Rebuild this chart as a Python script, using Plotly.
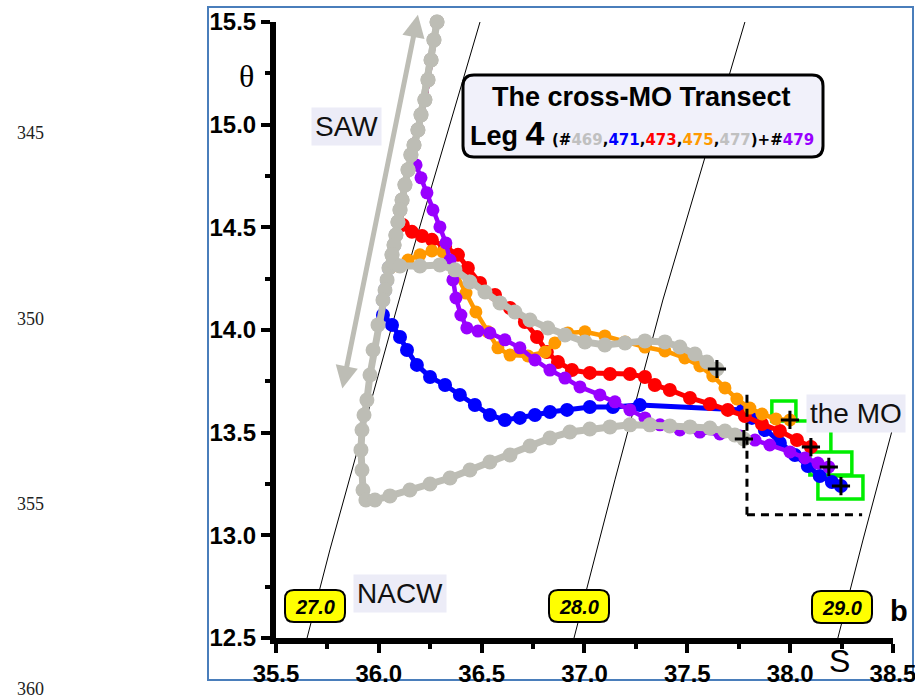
import plotly.graph_objects as go

# ---------------------------------------------------------------- figure geometry (pixels)
W, H = 915, 700
ML, MR, MT, MB = 276, 22, 22, 62
PW, PH = W - ML - MR, H - MT - MB


def px(x):
    """pixel column -> paper x"""
    return (x - ML) / PW


def py(y):
    """pixel row -> paper y"""
    return (H - MB - y) / PH


# ---------------------------------------------------------------- data (salinity S, potential temperature theta)
# shared near-surface column of all casts
SURF_S = [36.283, 36.268, 36.254, 36.239, 36.224, 36.205, 36.190, 36.171, 36.156, 36.142, 36.127,
          36.113, 36.103, 36.093, 36.083, 36.074, 36.064, 36.049, 36.040, 36.030, 36.020]
SURF_T = [15.500, 15.413, 15.315, 15.218, 15.121, 15.048, 14.974, 14.901, 14.853, 14.780, 14.707,
          14.633, 14.585, 14.526, 14.463, 14.414, 14.366, 14.302, 14.244, 14.195, 14.146]

# cast 471 (blue)
S_471 = SURF_S + [36.020, 36.064, 36.103, 36.137, 36.185, 36.249, 36.322, 36.394, 36.467, 36.540,
                  36.613, 36.686, 36.759, 36.832, 36.915, 37.026, 37.138, 37.269, 37.770, 37.814,
                  37.877, 37.950, 38.023, 38.086, 38.144, 38.203, 38.247]
T_471 = SURF_T + [14.073, 14.025, 13.966, 13.903, 13.830, 13.771, 13.732, 13.684, 13.635, 13.586,
                  13.562, 13.572, 13.586, 13.601, 13.611, 13.625, 13.625, 13.635, 13.611, 13.572,
                  13.513, 13.450, 13.391, 13.338, 13.289, 13.260, 13.240]

# cast 473 (red)
S_473 = SURF_S[:13] + [36.117, 36.161, 36.210, 36.258, 36.322, 36.385, 36.433, 36.492, 36.565, 36.638,
                       36.710, 36.769, 36.817, 36.871, 36.939, 37.026, 37.124, 37.221, 37.294, 37.342,
                       37.415, 37.513, 37.610, 37.697, 37.780, 37.863, 37.950, 38.033, 38.101]
T_473 = SURF_T[:13] + [14.512, 14.478, 14.458, 14.439, 14.405, 14.366, 14.302, 14.229, 14.171, 14.107,
                       14.039, 13.966, 13.893, 13.844, 13.805, 13.791, 13.786, 13.786, 13.771, 13.732,
                       13.708, 13.669, 13.640, 13.611, 13.581, 13.542, 13.508, 13.464, 13.430]

# cast 475 (orange)
S_475 = SURF_S[:17] + [36.054, 36.093, 36.142, 36.200, 36.258, 36.312, 36.370, 36.424, 36.472, 36.531,
                       36.579, 36.638, 36.725, 36.808, 36.856, 36.919, 37.002, 37.099, 37.197, 37.294,
                       37.391, 37.488, 37.561, 37.624, 37.683, 37.741, 37.804, 37.863, 37.931, 37.999]
T_475 = SURF_T[:17] + [14.302, 14.312, 14.341, 14.366, 14.385, 14.380, 14.283, 14.180, 14.088, 13.991,
                       13.913, 13.878, 13.874, 13.893, 13.937, 13.986, 13.991, 13.971, 13.942, 13.917,
                       13.898, 13.864, 13.825, 13.776, 13.718, 13.664, 13.620, 13.591, 13.567, 13.562]

# cast 479 (purple)
S_479 = SURF_S[:9] + [36.181, 36.205, 36.234, 36.263, 36.297, 36.326, 36.346, 36.360, 36.375, 36.399,
                      36.428, 36.482, 36.540, 36.613, 36.686, 36.759, 36.832, 36.905, 36.978, 37.075,
                      37.148, 37.221, 37.294, 37.367, 37.464, 37.561, 37.658, 37.756, 37.829, 37.901,
                      37.999, 38.072, 38.135, 38.188]
T_479 = SURF_T[:9] + [14.804, 14.741, 14.668, 14.585, 14.502, 14.424, 14.341, 14.244, 14.156, 14.073,
                      14.010, 13.995, 13.986, 13.952, 13.913, 13.854, 13.805, 13.766, 13.723, 13.684,
                      13.650, 13.611, 13.572, 13.538, 13.513, 13.503, 13.494, 13.484, 13.464, 13.440,
                      13.406, 13.377, 13.352, 13.333]

# cast 469 (grey, lower branch)
S_469 = SURF_S + [35.996, 35.972, 35.957, 35.942, 35.928, 35.918, 35.913, 35.918, 35.923, 35.937,
                  35.981, 36.054, 36.151, 36.249, 36.346, 36.443, 36.540, 36.638, 36.735, 36.832,
                  36.929, 37.026, 37.124, 37.221, 37.318, 37.415, 37.513, 37.610, 37.683, 37.731,
                  37.775]
T_469 = SURF_T + [14.025, 13.903, 13.781, 13.659, 13.586, 13.513, 13.416, 13.318, 13.221, 13.172,
                  13.172, 13.192, 13.221, 13.250, 13.279, 13.318, 13.357, 13.391, 13.435, 13.474,
                  13.503, 13.518, 13.528, 13.538, 13.538, 13.533, 13.528, 13.523, 13.508, 13.489,
                  13.469]

# cast 477 (grey, upper branch)
S_477 = SURF_S[:17] + [36.069, 36.103, 36.200, 36.297, 36.370, 36.443, 36.516, 36.589, 36.662, 36.735,
                       36.822, 36.905, 37.002, 37.099, 37.197, 37.294, 37.391, 37.464, 37.537, 37.595,
                       37.644]
T_477 = SURF_T[:17] + [14.331, 14.312, 14.312, 14.317, 14.293, 14.234, 14.185, 14.132, 14.088, 14.049,
                       14.010, 13.976, 13.942, 13.927, 13.937, 13.947, 13.942, 13.917, 13.883, 13.844,
                       13.810]

# isopycnals sigma-theta = 27.0, 28.0, 29.0
SIG_LABELS = ["27.0", "28.0", "29.0"]
SIG_S = [[35.651, 35.762, 36.166, 36.492],
         [36.949, 37.148, 37.381, 37.780],
         [38.232, 38.354, 38.499]]
SIG_T = [[12.500, 12.929, 14.390, 15.500],
         [12.500, 13.270, 14.146, 15.500],
         [12.500, 12.977, 13.523]]

# axis ticks
S_TICKS = [35.5, 36.0, 36.5, 37.0, 37.5, 38.0, 38.5]
T_TICKS = [12.5, 13.0, 13.5, 14.0, 14.5, 15.0, 15.5]

# SAW spreading arrow (tail -> head)
SAW_ARROW = dict(s0=35.821, t0=13.708, s1=36.190, t1=15.535)

# dashed MO water-mass box
MO_S = [37.79, 38.35]
MO_T = [13.10, 13.71]

# MO core boxes (S0, S1, T0, T1)
MO_CORES = [(37.911, 38.028, 13.557, 13.654),
            (38.096, 38.300, 13.294, 13.406),
            (38.135, 38.354, 13.177, 13.289)]

GREY = "#bdbdb5"
CASTS = [
    ("471", S_471, T_471, "#0000ff", 14, 5),
    ("473", S_473, T_473, "#ff0000", 14, 5),
    ("475", S_475, T_475, "#ff9900", 13, 4.5),
    ("479", S_479, T_479, "#9900ff", 13, 4.5),
    ("469", S_469, T_469, GREY, 15, 7),
    ("477", S_477, T_477, GREY, 15, 7),
]

fig = go.Figure()

# isopycnals
for s, t in zip(SIG_S, SIG_T):
    fig.add_trace(go.Scatter(x=s, y=t, mode="lines", line=dict(color="black", width=1),
                             hoverinfo="skip", showlegend=False))

# casts
for name, s, t, col, msize, lw in CASTS:
    fig.add_trace(go.Scatter(x=s, y=t, mode="lines+markers", name="#" + name,
                             line=dict(color=col, width=lw),
                             marker=dict(color=col, size=msize, line=dict(width=0)),
                             cliponaxis=False, showlegend=False))

# deepest point of each cast
fig.add_trace(go.Scatter(x=[c[1][-1] for c in CASTS], y=[c[2][-1] for c in CASTS],
                         mode="markers", showlegend=False, cliponaxis=False,
                         marker=dict(symbol="cross-thin", size=13,
                                     line=dict(width=3, color="black"))))

shapes = []

# outer frame
shapes.append(dict(type="rect", xref="paper", yref="paper", x0=px(208), x1=px(913), y0=py(680), y1=py(7),
                   line=dict(color="#4a7ebb", width=2), layer="below"))

# dashed MO box
shapes.append(dict(type="line", xref="x", yref="y", x0=MO_S[0], x1=MO_S[0], y0=MO_T[0], y1=MO_T[1],
                   line=dict(color="black", width=3, dash="8px,6px"), layer="above"))
shapes.append(dict(type="line", xref="x", yref="y", x0=MO_S[0], x1=MO_S[1], y0=MO_T[0], y1=MO_T[0],
                   line=dict(color="black", width=3, dash="8px,6px"), layer="above"))

# green MO cores and their leaders to the label
for s0, s1, t0, t1 in MO_CORES:
    shapes.append(dict(type="rect", xref="x", yref="y", x0=s0, x1=s1, y0=t0, y1=t1,
                       line=dict(color="#00ee00", width=3.5), layer="below"))
shapes.append(dict(type="line", xref="x", yref="y", x0=MO_CORES[0][1], x1=38.086,
                   y0=MO_CORES[0][2], y1=MO_CORES[0][2], line=dict(color="#00ee00", width=3.5), layer="below"))
shapes.append(dict(type="line", xref="x", yref="y", x0=38.198, x1=38.198,
                   y0=MO_CORES[1][3], y1=13.518, line=dict(color="#00ee00", width=3.5), layer="below"))


def rounded_box(x0, y0, x1, y1, r):
    """rounded rectangle path in paper coordinates, corners given in pixels"""
    pts = [
        ("M", [(x0 + r, y0)]), ("L", [(x1 - r, y0)]), ("Q", [(x1, y0), (x1, y0 + r)]),
        ("L", [(x1, y1 - r)]), ("Q", [(x1, y1), (x1 - r, y1)]), ("L", [(x0 + r, y1)]),
        ("Q", [(x0, y1), (x0, y1 - r)]), ("L", [(x0, y0 + r)]), ("Q", [(x0, y0), (x0 + r, y0)]),
    ]
    out = []
    for cmd, pp in pts:
        out.append(cmd + " " + " ".join(f"{px(a):.5f},{py(b):.5f}" for a, b in pp))
    return " ".join(out) + " Z"


# title box
shapes.append(dict(type="path", xref="paper", yref="paper", path=rounded_box(463, 75, 823, 157, 11),
                   fillcolor="#f1f1fa", line=dict(color="black", width=3), layer="above"))

# isopycnal label boxes
LABEL_PX = [(315, 606), (579, 606), (842, 607)]
for cx, cy in LABEL_PX:
    shapes.append(dict(type="path", xref="paper", yref="paper",
                       path=rounded_box(cx - 30, cy - 16, cx + 30, cy + 16, 9),
                       fillcolor="#ffff00", line=dict(color="black", width=2), layer="above"))

ann = []
SANS = "Liberation Sans, Arial, sans-serif"


def label(text, cx, cy, **kw):
    """text centred on a pixel position"""
    d = dict(xref="paper", yref="paper", x=px(cx), y=py(cy), xanchor="center", yanchor="middle",
             showarrow=False, text=text)
    d.update(kw)
    ann.append(d)


# title
label("<b>The cross-MO Transect</b>", 641, 97, font=dict(family=SANS, size=27, color="black"))
cast_num = ("<span style='color:#c0c0c0'>469</span>,<span style='color:#0000ff'>471</span>,"
            "<span style='color:#ff0000'>473</span>,<span style='color:#ff9900'>475</span>,"
            "<span style='color:#c0c0c0'>477</span>)+#<span style='color:#9900ff'>479</span>")
label("<b>Leg <span style='font-size:34px'>4</span> "
      "<span style='font-size:15px;font-family:DejaVu Sans'>(#" + cast_num + "</span></b>",
      642, 133, font=dict(family=SANS, size=27, color="black"))

# isopycnal labels
for (cx, cy), lab in zip(LABEL_PX, SIG_LABELS):
    label(f"<b><i>{lab}</i></b>", cx, cy + 1, font=dict(family=SANS, size=20, color="black"))

# water mass labels
for txt, cx, cy in [("SAW", 346, 127), ("NACW", 400, 593), ("the MO", 856, 413)]:
    label(txt, cx, cy, bgcolor="#ececf7", borderpad=3, font=dict(family=SANS, size=28, color="#111111"))

# axis symbols
label("θ", 246, 76, font=dict(family="Liberation Serif, serif", size=32, color="black"))
label("S", 839, 661, font=dict(family=SANS, size=32, color="black"))
label("<b>b</b>", 899, 611, font=dict(family=SANS, size=29, color="black"))

# manuscript line numbers
for num, cy in [("345", 133), ("350", 319), ("355", 504), ("360", 689)]:
    label(num, 30, cy, font=dict(family="Liberation Serif, serif", size=18, color="#222222"))

# SAW double-headed arrow
ann.append(dict(x=SAW_ARROW["s1"], y=SAW_ARROW["t1"], ax=SAW_ARROW["s0"], ay=SAW_ARROW["t0"],
                xref="x", yref="y", axref="x", ayref="y", text="", showarrow=True,
                arrowhead=2, startarrowhead=2, arrowside="end+start", arrowsize=0.9,
                startarrowsize=0.9, arrowwidth=5, arrowcolor=GREY))

axis_common = dict(
    showgrid=False, zeroline=False, showline=True, linecolor="black", linewidth=6,
    ticks="outside", ticklen=9, tickwidth=4, tickcolor="black", tickmode="array",
    ticklabeloverflow="allow",
    tickfont=dict(family=SANS, size=24, color="black", weight="bold"),
    minor=dict(dtick=0.25, ticks="outside", ticklen=5, tickwidth=4, tickcolor="black", showgrid=False),
)

fig.update_layout(
    width=W, height=H,
    margin=dict(l=ML, r=MR, t=MT, b=MB, autoexpand=False),
    paper_bgcolor="white", plot_bgcolor="white",
    xaxis=dict(range=[35.5, 38.5001], tickvals=S_TICKS, ticktext=[f"{v:.1f}" for v in S_TICKS],
               **axis_common),
    yaxis=dict(range=[12.5, 15.5001], tickvals=T_TICKS, ticktext=[f"{v:.1f}" for v in T_TICKS],
               **axis_common),
    shapes=shapes, annotations=ann, showlegend=False,
)

fig.write_html("out.html")
